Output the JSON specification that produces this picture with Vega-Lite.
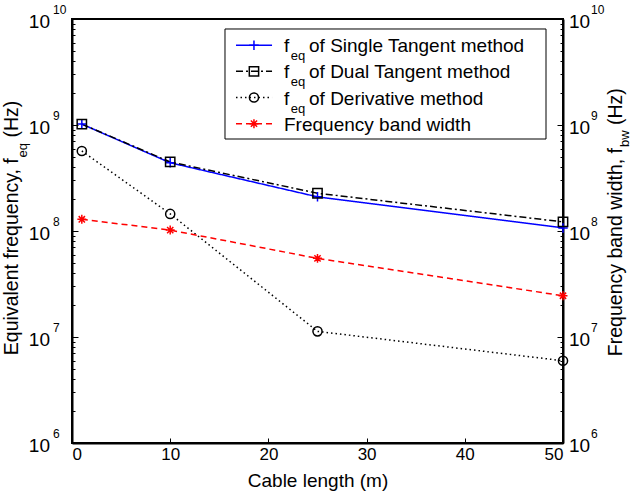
{
  "$schema": "https://vega.github.io/schema/vega-lite/v6.json",
  "width": 491,
  "height": 424,
  "autosize": {"type": "none"},
  "padding": {"left": 72, "top": 19, "right": 67, "bottom": 53},
  "background": "white",
  "config": {
    "view": {"stroke": "black", "strokeWidth": 2},
    "font": "Liberation Sans",
    "axis": {
      "grid": false,
      "domainColor": "black",
      "domainWidth": 2,
      "tickColor": "black",
      "tickWidth": 1,
      "labelColor": "black",
      "titleColor": "black",
      "labelFont": "Liberation Sans",
      "titleFont": "Liberation Sans",
      "titleFontWeight": "normal"
    },
    "text": {"font": "Liberation Sans", "color": "black"}
  },
  "datasets": {
    "curves": [
      {"method": "Single Tangent", "length": 1, "freq": 1.02e9},
      {"method": "Single Tangent", "length": 10, "freq": 4.4e8},
      {"method": "Single Tangent", "length": 25, "freq": 2.1e8},
      {"method": "Single Tangent", "length": 50, "freq": 1.07e8},
      {"method": "Dual Tangent", "length": 1, "freq": 1.02e9},
      {"method": "Dual Tangent", "length": 10, "freq": 4.48e8},
      {"method": "Dual Tangent", "length": 25, "freq": 2.27e8},
      {"method": "Dual Tangent", "length": 50, "freq": 1.22e8},
      {"method": "Derivative", "length": 1, "freq": 5.69e8},
      {"method": "Derivative", "length": 10, "freq": 1.45e8},
      {"method": "Derivative", "length": 25, "freq": 1.13e7},
      {"method": "Derivative", "length": 50, "freq": 5.97e6},
      {"method": "Band width", "length": 1, "freq": 1.29e8},
      {"method": "Band width", "length": 10, "freq": 1.02e8},
      {"method": "Band width", "length": 25, "freq": 5.52e7},
      {"method": "Band width", "length": 50, "freq": 2.45e7}
    ],
    "legend": [
      {"method": "Single Tangent", "order": 1, "main": "f", "sub": "eq", "rest": "of Single Tangent method"},
      {"method": "Dual Tangent", "order": 2, "main": "f", "sub": "eq", "rest": "of Dual Tangent method"},
      {"method": "Derivative", "order": 3, "main": "f", "sub": "eq", "rest": "of Derivative method"},
      {"method": "Band width", "order": 4, "main": "Frequency band width", "sub": "", "rest": ""}
    ],
    "decades": [
      {"value": 1e6, "exp": "6"},
      {"value": 1e7, "exp": "7"},
      {"value": 1e8, "exp": "8"},
      {"value": 1e9, "exp": "9"},
      {"value": 1e10, "exp": "10"}
    ]
  },
  "layer": [
    {
      "layer": [
        {
          "data": {"name": "curves"},
          "mark": {"type": "line", "strokeWidth": 1.5},
          "encoding": {
            "x": {
              "field": "length",
              "type": "quantitative",
              "scale": {"domain": [0, 50], "nice": false, "zero": false},
              "axis": {
                "values": [0, 10, 20, 30, 40, 50],
                "tickSize": -5,
                "labelFontSize": 17,
                "labelPadding": 8,
                "title": "Cable length (m)",
                "titleFontSize": 19,
                "titleBaseline": "alphabetic",
                "titleY": 43
              }
            },
            "y": {
              "field": "freq",
              "type": "quantitative",
              "scale": {"type": "log", "domain": [1e6, 1e10], "nice": false},
              "axis": {
                "orient": "left",
                "title": null,
                "labels": false,
                "values": [1e6, 2e6, 3e6, 4e6, 5e6, 6e6, 7e6, 8e6, 9e6, 1e7, 2e7, 3e7, 4e7, 5e7, 6e7, 7e7, 8e7, 9e7, 1e8, 2e8, 3e8, 4e8, 5e8, 6e8, 7e8, 8e8, 9e8, 1e9, 2e9, 3e9, 4e9, 5e9, 6e9, 7e9, 8e9, 9e9, 1e10],
                "tickSize": {"condition": {"test": "abs(log(datum.value)/LN10 - round(log(datum.value)/LN10)) < 0.001", "value": -6}, "value": -3}
              }
            },
            "color": {
              "field": "method",
              "type": "nominal",
              "scale": {"domain": ["Single Tangent", "Dual Tangent", "Derivative", "Band width"], "range": ["#0000ff", "#000000", "#000000", "#ff0000"]},
              "legend": null
            },
            "strokeDash": {
              "field": "method",
              "type": "nominal",
              "scale": {"domain": ["Single Tangent", "Dual Tangent", "Derivative", "Band width"], "range": [[1, 0], [7, 3, 2, 3], [1.5, 3], [6, 4]]},
              "legend": null
            }
          }
        },
        {
          "data": {"name": "curves"},
          "mark": {"type": "point", "filled": false, "strokeWidth": 1.5, "opacity": 1},
          "encoding": {
            "x": {"field": "length", "type": "quantitative"},
            "y": {"field": "freq", "type": "quantitative"},
            "color": {"field": "method", "type": "nominal", "legend": null},
            "shape": {
              "field": "method",
              "type": "nominal",
              "scale": {"domain": ["Single Tangent", "Dual Tangent", "Derivative", "Band width"], "range": ["M-1,0L1,0M0,-1L0,1", "square", "circle", "M-1,0L1,0M0,-1L0,1M-0.7,-0.7L0.7,0.7M-0.7,0.7L0.7,-0.7"]},
              "legend": null
            },
            "size": {
              "field": "method",
              "type": "nominal",
              "scale": {"domain": ["Single Tangent", "Dual Tangent", "Derivative", "Band width"], "range": [90, 80, 70, 18]},
              "legend": null
            }
          }
        },
        {
          "data": {"name": "decades"},
          "mark": {"type": "text", "align": "right", "baseline": "alphabetic", "fontSize": 19, "dx": -22, "dy": 8.5},
          "encoding": {
            "x": {"datum": 0},
            "y": {"field": "value", "type": "quantitative"},
            "text": {"value": "10"}
          }
        },
        {
          "data": {"name": "decades"},
          "mark": {"type": "text", "align": "left", "baseline": "alphabetic", "fontSize": 12, "dx": -19, "dy": -5.5},
          "encoding": {
            "x": {"datum": 0},
            "y": {"field": "value", "type": "quantitative"},
            "text": {"field": "exp"}
          }
        },
        {
          "data": {"values": [{}]},
          "mark": {"type": "text", "angle": 270, "align": "right", "baseline": "alphabetic", "fontSize": 19.5, "dx": 72.8, "dy": -54.5},
          "encoding": {"x": {"datum": 0}, "y": {"datum": 1e8}, "text": {"value": "Equivalent frequency, f"}}
        },
        {
          "data": {"values": [{}]},
          "mark": {"type": "text", "angle": 270, "align": "left", "baseline": "alphabetic", "fontSize": 13, "dx": 73.5, "dy": -45.5},
          "encoding": {"x": {"datum": 0}, "y": {"datum": 1e8}, "text": {"value": "eq"}}
        },
        {
          "data": {"values": [{}]},
          "mark": {"type": "text", "angle": 270, "align": "left", "baseline": "alphabetic", "fontSize": 19.5, "dx": 93.4, "dy": -54.5},
          "encoding": {"x": {"datum": 0}, "y": {"datum": 1e8}, "text": {"value": "(Hz)"}}
        },
        {
          "data": {"values": [{}]},
          "mark": {"type": "text", "angle": 270, "align": "right", "baseline": "alphabetic", "fontSize": 19.5, "dx": 83, "dy": 58.5},
          "encoding": {"x": {"datum": 50}, "y": {"datum": 1e8}, "text": {"value": "Frequency band width, f"}}
        },
        {
          "data": {"values": [{}]},
          "mark": {"type": "text", "angle": 270, "align": "left", "baseline": "alphabetic", "fontSize": 13, "dx": 84, "dy": 65.5},
          "encoding": {"x": {"datum": 50}, "y": {"datum": 1e8}, "text": {"value": "bw"}}
        },
        {
          "data": {"values": [{}]},
          "mark": {"type": "text", "angle": 270, "align": "left", "baseline": "alphabetic", "fontSize": 19.5, "dx": 106, "dy": 58.5},
          "encoding": {"x": {"datum": 50}, "y": {"datum": 1e8}, "text": {"value": "(Hz)"}}
        }
      ]
    },
    {
      "data": {"name": "decades"},
      "layer": [
        {
          "mark": {"type": "text", "align": "left", "baseline": "alphabetic", "fontSize": 19, "dx": 6, "dy": 8.5},
          "encoding": {
            "x": {"datum": 50},
            "y": {
              "field": "value",
              "type": "quantitative",
              "scale": {"type": "log", "domain": [1e6, 1e10], "nice": false},
              "axis": {
                "orient": "right",
                "title": null,
                "labels": false,
                "values": [1e6, 2e6, 3e6, 4e6, 5e6, 6e6, 7e6, 8e6, 9e6, 1e7, 2e7, 3e7, 4e7, 5e7, 6e7, 7e7, 8e7, 9e7, 1e8, 2e8, 3e8, 4e8, 5e8, 6e8, 7e8, 8e8, 9e8, 1e9, 2e9, 3e9, 4e9, 5e9, 6e9, 7e9, 8e9, 9e9, 1e10],
                "tickSize": {"condition": {"test": "abs(log(datum.value)/LN10 - round(log(datum.value)/LN10)) < 0.001", "value": -6}, "value": -3}
              }
            },
            "text": {"value": "10"}
          }
        },
        {
          "mark": {"type": "text", "align": "left", "baseline": "alphabetic", "fontSize": 12, "dx": 28, "dy": -5.5},
          "encoding": {
            "x": {"datum": 50},
            "y": {"field": "value", "type": "quantitative"},
            "text": {"field": "exp"}
          }
        }
      ]
    },
    {
      "layer": [
        {
          "data": {"values": [{}]},
          "mark": {"type": "rect", "fill": "white", "stroke": "black", "strokeWidth": 1},
          "encoding": {
            "x": {"datum": 15.58},
            "x2": {"datum": 48.27},
            "y": {"datum": 0.382, "type": "quantitative", "scale": {"domain": [0, 16.2], "reverse": true, "nice": false, "zero": false}, "axis": null},
            "y2": {"datum": 4.585}
          }
        },
        {
          "data": {"name": "legend"},
          "mark": {"type": "rule", "strokeWidth": 1.5},
          "encoding": {
            "x": {"datum": 16.7},
            "x2": {"datum": 20.37},
            "y": {"field": "order", "type": "quantitative"},
            "color": {"field": "method", "type": "nominal", "legend": null},
            "strokeDash": {"field": "method", "type": "nominal", "legend": null}
          }
        },
        {
          "data": {"name": "legend"},
          "mark": {"type": "point", "filled": false, "strokeWidth": 1.5, "opacity": 1},
          "encoding": {
            "x": {"datum": 18.53},
            "y": {"field": "order", "type": "quantitative"},
            "color": {"field": "method", "type": "nominal", "legend": null},
            "shape": {"field": "method", "type": "nominal", "legend": null},
            "size": {"field": "method", "type": "nominal", "legend": null}
          }
        },
        {
          "data": {"name": "legend"},
          "mark": {"type": "text", "align": "left", "baseline": "alphabetic", "fontSize": 19, "dy": 7},
          "encoding": {
            "x": {"datum": 21.59},
            "y": {"field": "order", "type": "quantitative"},
            "text": {"field": "main"}
          }
        },
        {
          "data": {"name": "legend"},
          "mark": {"type": "text", "align": "left", "baseline": "alphabetic", "fontSize": 13, "dx": 6.7, "dy": 15},
          "encoding": {
            "x": {"datum": 21.59},
            "y": {"field": "order", "type": "quantitative"},
            "text": {"field": "sub"}
          }
        },
        {
          "data": {"name": "legend"},
          "mark": {"type": "text", "align": "left", "baseline": "alphabetic", "fontSize": 19, "dx": 25, "dy": 7},
          "encoding": {
            "x": {"datum": 21.59},
            "y": {"field": "order", "type": "quantitative"},
            "text": {"field": "rest"}
          }
        }
      ]
    }
  ],
  "resolve": {"scale": {"y": "independent"}}
}
